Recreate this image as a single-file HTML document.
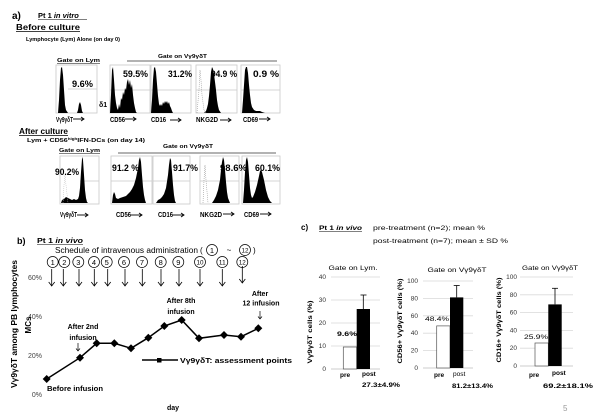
<!DOCTYPE html>
<html><head><meta charset="utf-8"><style>
html,body{margin:0;padding:0;background:#fff;}
svg{display:block;font-family:"Liberation Sans",Arial,sans-serif;}
.b{font-weight:bold;}
</style></head><body>
<svg width="600" height="414" viewBox="0 0 600 414" xmlns="http://www.w3.org/2000/svg">
<rect width="600" height="414" fill="#fff"/>
<defs>
<g id="arr"><line x1="0" y1="0" x2="11" y2="0" stroke="#000" stroke-width="0.9"/><polyline points="8,-2 11,0 8,2" fill="none" stroke="#000" stroke-width="0.9"/></g>
<g id="dn"><line x1="0" y1="0" x2="0" y2="17" stroke="#000" stroke-width="0.8"/><polyline points="-3,13 0,17 3,13" fill="none" stroke="#000" stroke-width="0.8"/></g>
</defs>

<!-- ===== Panel a ===== -->
<text x="12" y="19" class="b" font-size="10">a)</text>
<text x="38" y="18" class="b" font-size="7.5">Pt 1 <tspan font-style="italic">in vitro</tspan></text>
<line x1="38" y1="19.5" x2="87" y2="19.5" stroke="#000" stroke-width="0.6"/>
<text x="16" y="30" class="b" font-size="8" textLength="64" lengthAdjust="spacingAndGlyphs">Before culture</text>
<line x1="16" y1="31.5" x2="80" y2="31.5" stroke="#000" stroke-width="0.7"/>
<text x="26" y="41" class="b" font-size="5.5" textLength="94" lengthAdjust="spacingAndGlyphs">Lymphocyte (Lym)  Alone (on day 0)</text>

<text x="57" y="62" class="b" font-size="5.5" textLength="43" lengthAdjust="spacingAndGlyphs">Gate on Lym</text>
<line x1="57" y1="63.5" x2="100" y2="63.5" stroke="#000" stroke-width="0.5"/>
<text x="158" y="58" class="b" font-size="5.5" textLength="49" lengthAdjust="spacingAndGlyphs">Gate on Vγ9γδT</text>
<line x1="127" y1="61" x2="277" y2="61" stroke="#333" stroke-width="0.8"/>

<!-- row 1 frames -->
<g fill="none" stroke="#c8c8c8" stroke-width="0.8">
<rect x="56" y="65" width="41" height="48"/>
<rect x="110" y="65" width="40" height="48"/>
<rect x="151" y="65" width="40" height="48"/>
<rect x="196" y="65" width="41" height="48"/>
<rect x="241" y="65" width="39" height="48"/>
<line x1="68" y1="89" x2="97" y2="89"/>
<line x1="110" y1="90" x2="150" y2="90"/>
<line x1="151" y1="90" x2="191" y2="90"/>
<line x1="196" y1="90" x2="237" y2="90"/>
<line x1="241" y1="90" x2="280" y2="90"/>
</g>
<!-- row 1 histograms -->
<g fill="#000">
<path d="M56,113 L58,113 L59,100 L60,80 L61,68 L62,67 L63,75 L64,90 L65,105 L66,110 L68,113 L77,113 L78,110 L79,104 L80,102 L81,105 L82,111 L83,113 Z"/>
<path d="M110,113 L111,95 L112,70 L113,67 L114,80 L115,95 L116,103 L117,108 L118,110 L119,104 L120,108 L121,98 L122,100 L123,92 L124,95 L125,88 L126,90 L127,82 L128,79 L129,85 L130,80 L131,88 L132,84 L133,95 L134,103 L135,108 L136,112 L137,113 Z"/>
<path d="M151,113 L152,100 L153,80 L154,68 L155,67 L156,72 L157,84 L158,96 L159,104 L160,106 L161,104 L162,106 L163,102 L164,104 L165,101 L166,103 L167,101 L168,104 L169,102 L170,106 L171,108 L172,111 L173,113 Z"/>
<path d="M204,113 L206,111 L207,108 L208,104 L209,96 L210,85 L211,72 L212,67 L213,69 L214,74 L215,82 L216,90 L217,100 L218,106 L219,110 L221,113 Z"/>
<path d="M242,113 L243,100 L244,85 L245,70 L246,67 L247,67 L248,73 L249,85 L250,95 L251,103 L252,107 L254,110 L256,111 L260,111 L262,112 L265,113 Z"/>
</g>
<path d="M197,113 L199,90 L200,70 L201,80 L202,95 L204,110 L206,113" fill="none" stroke="#999" stroke-width="0.6" stroke-dasharray="1,1"/>
<!-- row 1 labels -->
<g class="b" font-size="9">
<text x="72" y="87" textLength="21" lengthAdjust="spacingAndGlyphs">9.6%</text>
<text x="123" y="77" textLength="25" lengthAdjust="spacingAndGlyphs">59.5%</text>
<text x="168" y="77" textLength="24" lengthAdjust="spacingAndGlyphs">31.2%</text>
<text x="211" y="77" textLength="26" lengthAdjust="spacingAndGlyphs">94.9 %</text>
<text x="253" y="77" textLength="26" lengthAdjust="spacingAndGlyphs">0.9 %</text>
</g>
<text x="99" y="107" class="b" font-size="7">δ1</text>
<g class="b" font-size="7">
<text x="56" y="122" textLength="17" lengthAdjust="spacingAndGlyphs">Vγ9γδT</text>
<text x="110" y="122" textLength="15" lengthAdjust="spacingAndGlyphs">CD56</text>
<text x="151" y="122" textLength="15" lengthAdjust="spacingAndGlyphs">CD16</text>
<text x="196" y="122" textLength="22" lengthAdjust="spacingAndGlyphs">NKG2D</text>
<text x="243" y="122" textLength="15" lengthAdjust="spacingAndGlyphs">CD69</text>
</g>
<use href="#arr" x="73" y="119"/>
<use href="#arr" x="125" y="119"/>
<use href="#arr" x="170" y="120"/>
<use href="#arr" x="220" y="120"/>
<use href="#arr" x="259" y="119"/>

<!-- After culture -->
<text x="19" y="134" class="b" font-size="8" textLength="49" lengthAdjust="spacingAndGlyphs">After culture</text>
<line x1="19" y1="135.5" x2="68" y2="135.5" stroke="#000" stroke-width="0.7"/>
<text x="27" y="142" class="b" font-size="5.5" textLength="118" lengthAdjust="spacingAndGlyphs">Lym + CD56<tspan font-size="3.5" dy="-2">high</tspan><tspan dy="2">IFN-DCs (on day 14)</tspan></text>
<text x="59" y="152" class="b" font-size="5.5" textLength="41" lengthAdjust="spacingAndGlyphs">Gate on Lym</text>
<line x1="59" y1="153.5" x2="100" y2="153.5" stroke="#000" stroke-width="0.5"/>
<text x="163" y="148" class="b" font-size="5.5" textLength="50" lengthAdjust="spacingAndGlyphs">Gate on Vγ9γδT</text>
<line x1="118" y1="153" x2="276" y2="153" stroke="#333" stroke-width="0.8"/>

<g fill="none" stroke="#c8c8c8" stroke-width="0.8">
<rect x="60" y="156" width="39" height="48"/>
<rect x="111" y="156" width="41" height="48"/>
<rect x="153" y="156" width="37" height="48"/>
<rect x="200" y="156" width="39" height="48"/>
<rect x="242" y="156" width="38" height="48"/>
<line x1="80" y1="181" x2="99" y2="181"/>
<line x1="111" y1="181" x2="152" y2="181"/>
<line x1="153" y1="181" x2="190" y2="181"/>
<line x1="200" y1="181" x2="239" y2="181"/>
<line x1="242" y1="181" x2="280" y2="181"/>
</g>
<g fill="#000">
<path d="M61,203 L62,200 L64,199 L66,197 L68,198 L70,199 L72,200 L74,199 L76,200 L78,199 L79,196 L80,188 L81,172 L82,159 L82.5,157 L83,160 L84,175 L85,190 L86,198 L87,202 L88,203 Z"/>
<path d="M112,203 L113,195 L114,192 L115,194 L116,198 L118,199 L120,198 L123,197 L126,196 L128,194 L130,192 L132,189 L134,185 L136,178 L138,168 L139,160 L140,157 L141,162 L142,175 L143,187 L144,195 L145,200 L146,203 Z"/>
<path d="M156,203 L158,200 L160,199 L162,197 L164,194 L166,188 L168,175 L169,165 L170,158 L171,160 L172,172 L173,185 L174,195 L175,201 L176,203 Z"/>
<path d="M212,203 L214,200 L216,196 L218,190 L220,180 L221,170 L222,162 L223,157 L224,160 L225,170 L226,182 L227,192 L228,198 L230,203 Z"/>
<path d="M243,203 L244,190 L245,172 L246,160 L247,157 L248,162 L249,175 L250,188 L251,195 L252,198 L253,197 L255,192 L257,185 L259,176 L260,171 L261,170 L262,172 L264,180 L266,190 L268,197 L270,201 L272,203 Z"/>
</g>
<path d="M203,203 L204,180 L205,165 L206,180 L208,203" fill="none" stroke="#999" stroke-width="0.6" stroke-dasharray="1,1"/>
<path d="M63,203 L64,185 L65,175 L66,185 L68,203" fill="none" stroke="#bbb" stroke-width="0.5" stroke-dasharray="1,1"/>
<g class="b" font-size="9">
<text x="55" y="175" textLength="24" lengthAdjust="spacingAndGlyphs">90.2%</text>
<text x="112" y="171" textLength="27" lengthAdjust="spacingAndGlyphs">91.2 %</text>
<text x="173" y="171" textLength="25" lengthAdjust="spacingAndGlyphs">91.7%</text>
<text x="220" y="171" textLength="27" lengthAdjust="spacingAndGlyphs">98.6%</text>
<text x="255" y="171" textLength="25" lengthAdjust="spacingAndGlyphs">60.1%</text>
</g>
<g class="b" font-size="7">
<text x="60" y="217" textLength="17" lengthAdjust="spacingAndGlyphs">Vγ9γδT</text>
<text x="116" y="217" textLength="15" lengthAdjust="spacingAndGlyphs">CD56</text>
<text x="158" y="217" textLength="15" lengthAdjust="spacingAndGlyphs">CD16</text>
<text x="200" y="217" textLength="22" lengthAdjust="spacingAndGlyphs">NKG2D</text>
<text x="244" y="217" textLength="15" lengthAdjust="spacingAndGlyphs">CD69</text>
</g>
<use href="#arr" x="77" y="215"/>
<use href="#arr" x="131" y="215"/>
<use href="#arr" x="173" y="215"/>
<use href="#arr" x="223" y="214"/>
<use href="#arr" x="260" y="214"/>

<!-- ===== Panel b ===== -->
<text x="17" y="244" class="b" font-size="9">b)</text>
<text x="37" y="243" class="b" font-size="7.5" textLength="46" lengthAdjust="spacingAndGlyphs">Pt 1 <tspan font-style="italic">in vivo</tspan></text>
<line x1="37" y1="244.5" x2="83" y2="244.5" stroke="#000" stroke-width="0.6"/>
<text x="55" y="253" font-size="8" textLength="143" lengthAdjust="spacingAndGlyphs">Schedule of intravenous administration</text>
<text x="200" y="253" font-size="8">(</text>
<circle cx="212" cy="250" r="5.5" fill="none" stroke="#000" stroke-width="0.7"/>
<text x="212" y="253" font-size="7.5" text-anchor="middle">1</text>
<text x="229" y="253" font-size="8" text-anchor="middle">~</text>
<circle cx="245" cy="250" r="5.5" fill="none" stroke="#000" stroke-width="0.7"/>
<text x="245" y="252.7" font-size="6.5" text-anchor="middle" textLength="7" lengthAdjust="spacingAndGlyphs">12</text>
<text x="253" y="253" font-size="8">)</text>

<g font-size="7.5" text-anchor="middle">
<circle cx="52.7" cy="262" r="5.5" fill="none" stroke="#000" stroke-width="0.7"/><text x="52.7" y="264.8">1</text>
<circle cx="64.3" cy="262" r="5.5" fill="none" stroke="#000" stroke-width="0.7"/><text x="64.3" y="264.8">2</text>
<circle cx="78.3" cy="262" r="5.5" fill="none" stroke="#000" stroke-width="0.7"/><text x="78.3" y="264.8">3</text>
<circle cx="94" cy="262" r="5.5" fill="none" stroke="#000" stroke-width="0.7"/><text x="94" y="264.8">4</text>
<circle cx="106.7" cy="262" r="5.5" fill="none" stroke="#000" stroke-width="0.7"/><text x="106.7" y="264.8">5</text>
<circle cx="124" cy="262" r="5.5" fill="none" stroke="#000" stroke-width="0.7"/><text x="124" y="264.8">6</text>
<circle cx="142" cy="262" r="5.5" fill="none" stroke="#000" stroke-width="0.7"/><text x="142" y="264.8">7</text>
<circle cx="160.7" cy="262" r="5.5" fill="none" stroke="#000" stroke-width="0.7"/><text x="160.7" y="264.8">8</text>
<circle cx="178.3" cy="262" r="5.5" fill="none" stroke="#000" stroke-width="0.7"/><text x="178.3" y="264.8">9</text>
<circle cx="200" cy="262" r="5.5" fill="none" stroke="#000" stroke-width="0.7"/><text x="200" y="264.5" font-size="6.5" textLength="7" lengthAdjust="spacingAndGlyphs">10</text>
<circle cx="222.3" cy="262" r="5.5" fill="none" stroke="#000" stroke-width="0.7"/><text x="222.3" y="264.5" font-size="6.5" textLength="7" lengthAdjust="spacingAndGlyphs">11</text>
<circle cx="242.3" cy="262" r="5.5" fill="none" stroke="#000" stroke-width="0.7"/><text x="242.3" y="264.5" font-size="6.5" textLength="7" lengthAdjust="spacingAndGlyphs">12</text>
</g>
<use href="#dn" x="51.7" y="269"/>
<use href="#dn" x="63.3" y="269"/>
<use href="#dn" x="79" y="269"/>
<use href="#dn" x="94.3" y="269"/>
<use href="#dn" x="107.7" y="269"/>
<use href="#dn" x="125" y="269"/>
<use href="#dn" x="142.3" y="269"/>
<use href="#dn" x="161" y="269"/>
<use href="#dn" x="179" y="269"/>
<use href="#dn" x="200" y="269"/>
<use href="#dn" x="222.3" y="269"/>
<use href="#dn" x="242.3" y="266"/>

<g font-size="7" fill="#444" text-anchor="end">
<text x="42" y="280">60%</text>
<text x="42" y="319">40%</text>
<text x="42" y="358">20%</text>
<text x="42" y="397">0%</text>
</g>
<text transform="translate(17,324) rotate(-90)" class="b" font-size="8" text-anchor="middle" textLength="128" lengthAdjust="spacingAndGlyphs">Vγ9γδT among  PB  lymphocytes</text>
<text transform="translate(31,325) rotate(-90)" class="b" font-size="8" text-anchor="middle">MCs</text>

<polyline points="46.7,379 80,357.7 96.7,343.3 114.3,343.3 131,348.3 148.3,337.7 164.3,326 181.7,320 199,338.3 224,335 241,336.7 258.3,328.3" fill="none" stroke="#000" stroke-width="1.5"/>
<g fill="#000">
<path d="M46.7,375 l4,4 l-4,4 l-4,-4 Z"/>
<path d="M80,353.7 l4,4 l-4,4 l-4,-4 Z"/>
<path d="M96.7,339.3 l4,4 l-4,4 l-4,-4 Z"/>
<path d="M114.3,339.3 l4,4 l-4,4 l-4,-4 Z"/>
<path d="M131,344.3 l4,4 l-4,4 l-4,-4 Z"/>
<path d="M148.3,333.7 l4,4 l-4,4 l-4,-4 Z"/>
<path d="M164.3,322 l4,4 l-4,4 l-4,-4 Z"/>
<path d="M181.7,316 l4,4 l-4,4 l-4,-4 Z"/>
<path d="M199,334.3 l4,4 l-4,4 l-4,-4 Z"/>
<path d="M224,331 l4,4 l-4,4 l-4,-4 Z"/>
<path d="M241,332.7 l4,4 l-4,4 l-4,-4 Z"/>
<path d="M258.3,324.3 l4,4 l-4,4 l-4,-4 Z"/>
</g>
<line x1="142" y1="360" x2="178" y2="360" stroke="#000" stroke-width="1.5"/>
<rect x="157" y="358" width="4.5" height="4.5" fill="#000"/>
<text x="180" y="363" class="b" font-size="7.5" textLength="112" lengthAdjust="spacingAndGlyphs">Vγ9γδT: assessment points</text>

<g class="b" font-size="7" text-anchor="middle">
<text x="83" y="329">After 2nd</text>
<text x="83" y="340">infusion</text>
<text x="181" y="303">After 8th</text>
<text x="181" y="314">infusion</text>
<text x="260" y="296">After</text>
<text x="261" y="305.5">12 infusion</text>
<text x="75" y="391" textLength="56" lengthAdjust="spacingAndGlyphs">Before infusion</text>
<text x="173" y="410">day</text>
</g>
<g fill="none" stroke="#000" stroke-width="0.7">
<line x1="78" y1="343" x2="78" y2="351"/><polyline points="76,348.5 78,351 80,348.5"/>
<line x1="260" y1="311" x2="260" y2="319"/><polyline points="258,316.5 260,319 262,316.5"/>
</g>

<!-- ===== Panel c ===== -->
<text x="301" y="230" class="b" font-size="8">c)</text>
<text x="319" y="230" class="b" font-size="6.5" textLength="43" lengthAdjust="spacingAndGlyphs">Pt 1 <tspan font-style="italic">in vivo</tspan></text>
<line x1="319" y1="231.5" x2="362" y2="231.5" stroke="#000" stroke-width="0.5"/>
<text x="373" y="230" font-size="6.5" textLength="112" lengthAdjust="spacingAndGlyphs">pre-treatment (n=2); mean %</text>
<text x="373" y="243" font-size="6.5" textLength="135" lengthAdjust="spacingAndGlyphs">post-treatment (n=7); mean ± SD %</text>

<!-- chart 1 -->
<text x="353" y="270" font-size="6" text-anchor="middle" textLength="49" lengthAdjust="spacingAndGlyphs">Gate on Lym.</text>
<g stroke="#d9d9d9" stroke-width="0.8">
<line x1="331" y1="277" x2="380" y2="277"/><line x1="331" y1="300" x2="380" y2="300"/><line x1="331" y1="323" x2="380" y2="323"/><line x1="331" y1="346" x2="380" y2="346"/>
</g>
<line x1="331" y1="369" x2="380" y2="369" stroke="#bbb" stroke-width="0.8"/>
<g font-size="6.5" fill="#333" text-anchor="end">
<text x="326" y="279">40</text><text x="326" y="302">30</text><text x="326" y="325">20</text><text x="326" y="348">10</text><text x="326" y="371">0</text>
</g>
<rect x="343.3" y="347" width="13.4" height="22" fill="#fff" stroke="#555" stroke-width="0.7"/>
<rect x="356.7" y="309" width="13.3" height="60" fill="#000"/>
<line x1="363.3" y1="309" x2="363.3" y2="295" stroke="#000" stroke-width="0.8"/>
<line x1="360.5" y1="295" x2="366.5" y2="295" stroke="#000" stroke-width="0.8"/>
<text x="337" y="336" class="b" font-size="6.5" textLength="20" lengthAdjust="spacingAndGlyphs">9.6%</text>
<text transform="translate(312,332) rotate(-90)" class="b" font-size="6.5" text-anchor="middle" textLength="63" lengthAdjust="spacingAndGlyphs">Vγ9γδT cells (%)</text>
<text x="340" y="377" class="b" font-size="6.5">pre</text>
<text x="362" y="376" class="b" font-size="6.5">post</text>
<text x="362" y="387" class="b" font-size="6" textLength="38" lengthAdjust="spacingAndGlyphs">27.3±4.9%</text>

<!-- chart 2 -->
<text x="457" y="272" font-size="6" text-anchor="middle" textLength="59" lengthAdjust="spacingAndGlyphs">Gate on Vγ9γδT</text>
<g stroke="#d9d9d9" stroke-width="0.8">
<line x1="423" y1="281" x2="473" y2="281"/><line x1="423" y1="298.4" x2="473" y2="298.4"/><line x1="423" y1="315.8" x2="473" y2="315.8"/><line x1="423" y1="333.2" x2="473" y2="333.2"/><line x1="423" y1="350.6" x2="473" y2="350.6"/>
</g>
<line x1="423" y1="368" x2="473" y2="368" stroke="#bbb" stroke-width="0.8"/>
<g font-size="6.5" fill="#333" text-anchor="end">
<text x="418" y="283">100</text><text x="418" y="300.4">80</text><text x="418" y="317.8">60</text><text x="418" y="335.2">40</text><text x="418" y="352.6">20</text><text x="418" y="370">0</text>
</g>
<rect x="436.7" y="325.9" width="13.3" height="42.1" fill="#fff" stroke="#555" stroke-width="0.7"/>
<rect x="450" y="297.4" width="13.3" height="70.6" fill="#000"/>
<line x1="456.7" y1="297.4" x2="456.7" y2="285.5" stroke="#000" stroke-width="0.8"/>
<line x1="453.7" y1="285.5" x2="459.7" y2="285.5" stroke="#000" stroke-width="0.8"/>
<text x="425" y="321" font-size="6.5" textLength="24" lengthAdjust="spacingAndGlyphs">48.4%</text>
<text transform="translate(402,321) rotate(-90)" class="b" font-size="6.5" text-anchor="middle" textLength="85" lengthAdjust="spacingAndGlyphs">CD56+ Vγ9γδT cells (%)</text>
<text x="434" y="377" class="b" font-size="6.5">pre</text>
<text x="453" y="376" font-size="6.5">post</text>
<text x="452" y="388" class="b" font-size="6" textLength="41" lengthAdjust="spacingAndGlyphs">81.2±13.4%</text>

<!-- chart 3 -->
<text x="550" y="270" font-size="6" text-anchor="middle" textLength="56" lengthAdjust="spacingAndGlyphs">Gate on Vγ9γδT</text>
<g stroke="#d9d9d9" stroke-width="0.8">
<line x1="520" y1="277" x2="573" y2="277"/><line x1="520" y1="294.8" x2="573" y2="294.8"/><line x1="520" y1="312.6" x2="573" y2="312.6"/><line x1="520" y1="330.4" x2="573" y2="330.4"/><line x1="520" y1="348.2" x2="573" y2="348.2"/>
</g>
<line x1="520" y1="366" x2="573" y2="366" stroke="#bbb" stroke-width="0.8"/>
<g font-size="6.5" fill="#333" text-anchor="end">
<text x="517" y="279">100</text><text x="517" y="296.8">80</text><text x="517" y="314.6">60</text><text x="517" y="332.4">40</text><text x="517" y="350.2">20</text><text x="517" y="368">0</text>
</g>
<rect x="535" y="343" width="13.3" height="23" fill="#fff" stroke="#555" stroke-width="0.7"/>
<rect x="548.3" y="304.4" width="13.4" height="61.6" fill="#000"/>
<line x1="555" y1="304.4" x2="555" y2="288.3" stroke="#000" stroke-width="0.8"/>
<line x1="552" y1="288.3" x2="558" y2="288.3" stroke="#000" stroke-width="0.8"/>
<text x="524" y="339" font-size="6.5" textLength="24" lengthAdjust="spacingAndGlyphs">25.9%</text>
<text transform="translate(501,320) rotate(-90)" class="b" font-size="6.5" text-anchor="middle" textLength="85" lengthAdjust="spacingAndGlyphs">CD16+ Vγ9γδT cells (%)</text>
<text x="529" y="377" class="b" font-size="6.5">pre</text>
<text x="552" y="375" class="b" font-size="6.5">post</text>
<text x="543" y="388" class="b" font-size="6" textLength="50" lengthAdjust="spacingAndGlyphs">69.2±18.1%</text>

<text x="563" y="411" font-size="8" fill="#999">5</text>
</svg>
</body></html>
